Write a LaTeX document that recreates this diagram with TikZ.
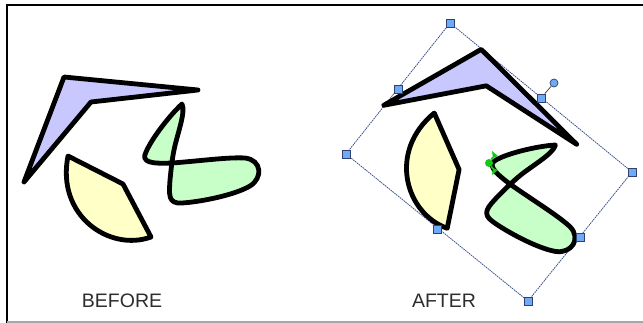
\documentclass[tikz,border=0pt]{standalone}
\usepackage{fontspec}
\setmainfont{Liberation Sans}
\definecolor{shpurple}{RGB}{200,200,255}
\definecolor{shyellow}{RGB}{255,255,200}
\definecolor{shgreen}{RGB}{200,255,200}
\definecolor{handleblue}{RGB}{110,170,245}
\definecolor{selblue}{RGB}{60,80,140}
\definecolor{txtgray}{RGB}{45,45,45}
\definecolor{markgreen}{RGB}{20,200,20}
\tikzset{
  outline/.style={draw=black, line width=4.8pt, line join=round, line cap=round},
  handle/.style={draw=selblue!80!black, fill=handleblue, line width=0.7pt, minimum size=8pt, inner sep=0pt, rectangle},
  rothandle/.style={draw=selblue!80!black, fill=handleblue, line width=0.7pt, minimum size=8pt, inner sep=0pt, circle},
  selline/.style={draw=selblue, line width=0.8pt, dash pattern=on 1.6pt off 0.8pt},
  label/.style={text=txtgray, font=\fontsize{19.5}{22}\selectfont, inner sep=0pt}
}
\newcommand\drawmyshapes{%
  % purple
  \path[outline, fill=shpurple] (24,182) -- (64,77) -- (198,90) -- (91,102) -- cycle;
  % yellow
  \path[outline, fill=shyellow] (68,156) -- (123,184) -- (151,237)
     .. controls (110,252) and (56,216) .. (68,156) -- cycle;
  % green
  \path[outline, fill=shgreen] (182,104)
     .. controls (170,115) and (152,138) .. (146,152)
     .. controls (141,162) and (150,164) .. (172,163)
     .. controls (200,161) and (228,157) .. (245,158)
     .. controls (262,160) and (263,178) .. (250,186)
     .. controls (235,195) and (200,202) .. (182,203)
     .. controls (168,204) and (169,195) .. (170,180)
     .. controls (171,170) and (172,160) .. (174,150)
     .. controls (177,135) and (186,112) .. (182,104) -- cycle;
}
\begin{document}
\begin{tikzpicture}[x=1pt, y=-1pt]
\useasboundingbox (0,0) rectangle (643,323);
\fill[white] (0,0) rectangle (643,323);
% frame
\draw[black, line width=2pt] (6.5,323) -- (6.5,5) -- (643,5);
\draw[gray!70, line width=1.5pt] (6.5,322) -- (643,322);
% before
\drawmyshapes
% after
\coordinate (c1) at (450,23);
\coordinate (c2) at (632,172);
\coordinate (c3) at (528,301);
\coordinate (c4) at (346,154);
\draw[selline] (c1) -- (c2) -- (c3) -- (c4) -- cycle;
\begin{scope}[shift={(489,163)}, rotate=-39.3, shift={(-142,-160)}]
  \drawmyshapes
\end{scope}
% handles
\node[handle] (h1) at (c1) {};
\node[handle] (h2) at (c2) {};
\node[handle] (h3) at (c3) {};
\node[handle] (h4) at (c4) {};
\node[handle] (m1) at (398,89) {};
\node[handle] (m2) at (541,98) {};
\node[handle] (m3) at (580,237) {};
\node[handle] (m4) at (437,229) {};
\node[rothandle] (rot) at (554,83) {};
\draw[gray!60!black, line width=0.8pt] (m2) -- (rot);
% rotation centre marker
\node[circle, fill=markgreen, inner sep=0pt, minimum size=8pt] (pivot) at (489,163) {};
\fill[markgreen] (492,151) -- (498,156) -- (493,158) -- cycle;
\fill[markgreen] (492,175) -- (498,170) -- (493,168) -- cycle;
\draw[markgreen, line width=1.8pt] (493,157) -- (pivot);
\draw[markgreen, line width=1.8pt] (493,169) -- (pivot);
% labels
\node[label] (before) at (122,300.5) {BEFORE};
\node[label] (after) at (444,300.5) {AFTER};
\end{tikzpicture}
\end{document}
